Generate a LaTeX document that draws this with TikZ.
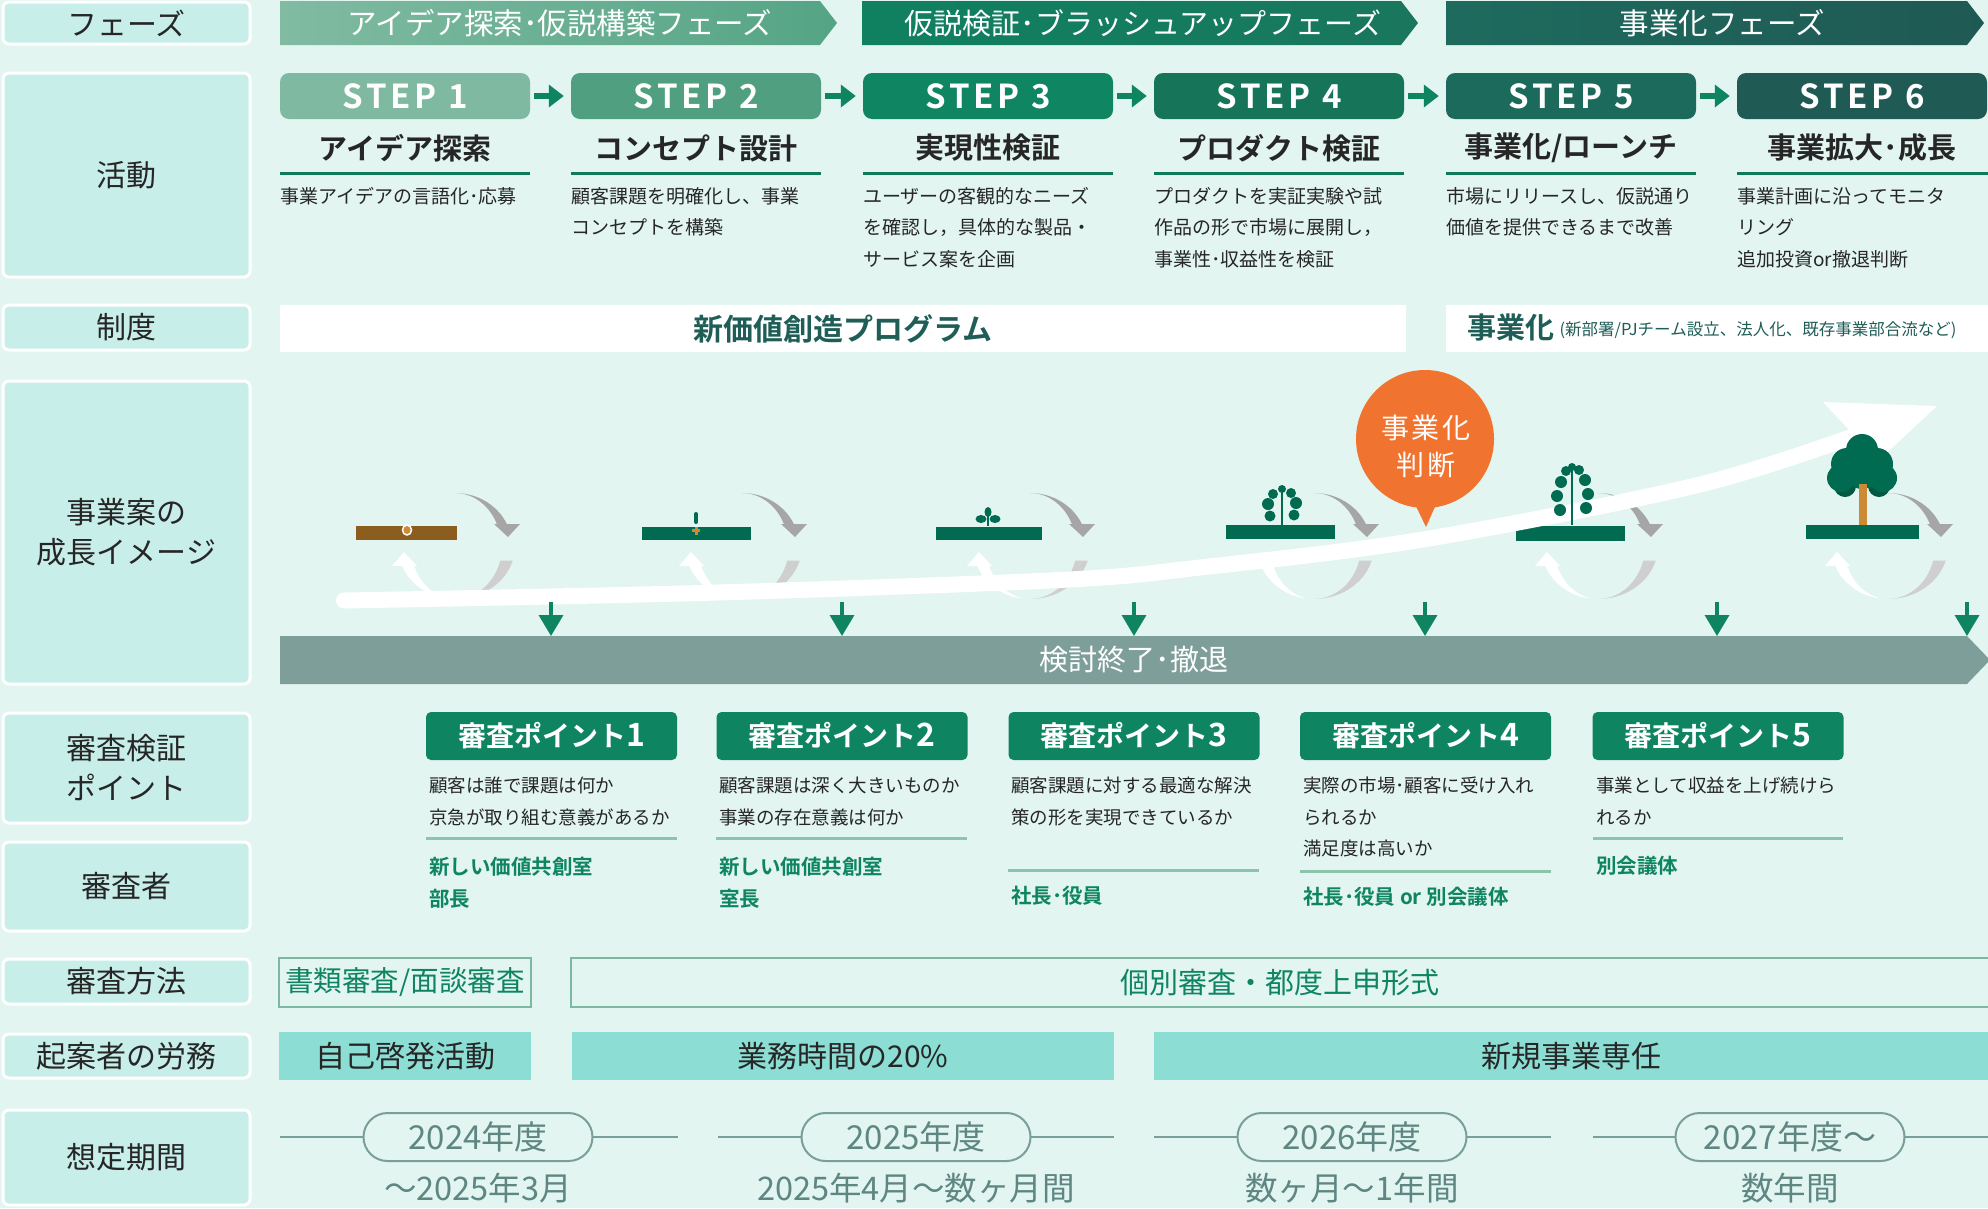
\documentclass[tikz,border=0pt]{standalone}
\usepackage{fontspec}
\setmainfont{Noto Sans CJK JP}
\newfontfamily\jpB{Noto Sans CJK JP Bold}
\newfontfamily\stepfont{Noto Sans CJK JP Bold}[LetterSpace=12]
\usetikzlibrary{arrows.meta}
\newcommand\fs[1]{\fontsize{#1}{#1}\selectfont}
\newcommand\fsl[2]{\fontsize{#1}{#2}\selectfont}
\definecolor{bg}{HTML}{E2F5F1}
\definecolor{lblfill}{HTML}{C8EEEA}
\definecolor{txt}{HTML}{262626}
\definecolor{grn}{HTML}{0E8560}
\definecolor{grnline}{HTML}{0E7A5A}
\definecolor{ph1a}{HTML}{80BBA2}
\definecolor{ph1b}{HTML}{55A486}
\definecolor{ph2a}{HTML}{0F8160}
\definecolor{ph2b}{HTML}{1A765D}
\definecolor{ph3a}{HTML}{1E6B5E}
\definecolor{ph3b}{HTML}{1F5954}
\definecolor{st1}{HTML}{80B9A1}
\definecolor{st2}{HTML}{4F9F80}
\definecolor{st3}{HTML}{0F8562}
\definecolor{st4}{HTML}{167458}
\definecolor{st5}{HTML}{1C6A5C}
\definecolor{st6}{HTML}{1F5B54}
\definecolor{sysc}{HTML}{1F5E57}
\definecolor{sepc}{HTML}{8CC4AE}
\definecolor{bandc}{HTML}{7E9E9A}
\definecolor{labor}{HTML}{8CDDD4}
\definecolor{mboxc}{HTML}{7DB9A0}
\definecolor{pill}{HTML}{7A9E9A}
\definecolor{pilltxt}{HTML}{5E8682}
\definecolor{orng}{HTML}{F07430}
\definecolor{plant}{HTML}{006B50}
\definecolor{plantd}{HTML}{005A43}
\definecolor{brownbar}{HTML}{8B5E20}
\definecolor{trunk}{HTML}{CD8A35}
\definecolor{grayA}{HTML}{A6A6A6}
\definecolor{grayB}{HTML}{CFCFCF}
\newcommand\growcycle[1]{%
  \fill[grayA] plot[domain=-90:-22,samples=24] ({#1+57*cos(\x)},{546+53*sin(\x)})
     -- plot[domain=-22:-90,samples=24] ({#1+46*cos(\x)},{546+53*sin(\x)}) -- cycle;
  \fill[grayA] (#1+39,524) -- (#1+65,524) -- (#1+53,537) -- cycle;
  \fill[grayB] plot[domain=16:90,samples=24] ({#1+60*cos(\x)},{546+53*sin(\x)})
     -- plot[domain=90:16,samples=24] ({#1+47*cos(\x)},{546+53*sin(\x)}) -- cycle;
  \fill[white] plot[domain=100:159,samples=24] ({#1+57*cos(\x)},{546+53*sin(\x)})
     -- plot[domain=159:100,samples=24] ({#1+44*cos(\x)},{546+53*sin(\x)}) -- cycle;
  \fill[white] (#1-63,566) -- (#1-38,566) -- (#1-51,552) -- cycle;
}
\newcommand\leaf[3]{\fill[plant] (#1,#2) circle[radius=#3];}
\begin{document}
\begin{tikzpicture}[x=1pt,y=-1pt,
  lbl/.style={draw=white, line width=3pt, fill=lblfill, rounded corners=6pt, text=txt, font=\fsl{30}{40}, align=center, minimum width=247pt, inner sep=0pt},
  phtext/.style={text=white, font=\fs{29.5}, inner sep=0pt},
  stepbox/.style={rounded corners=9pt, minimum width=250pt, minimum height=46pt, text=white, font=\stepfont\fs{33}, inner sep=0pt},
  steptitle/.style={font=\jpB\fs{29}, text=txt, inner sep=0pt},
  uline/.style={draw=grnline, line width=3pt},
  desc/.style={font=\fsl{19}{31.5}, text=txt, anchor=north west, align=left, inner sep=0pt},
  steparr/.style={draw=grn, line width=6pt, -{Triangle[length=15pt,width=22pt]}},
  sysbox/.style={fill=white, minimum height=47pt, inner sep=0pt},
  downarr/.style={draw=grn, line width=3.5pt, -{Triangle[length=21pt,width=24pt]}},
  rpbox/.style={fill=grn, rounded corners=5pt, minimum width=251pt, minimum height=48pt, text=white, font=\jpB\fs{28}, inner sep=0pt},
  qtext/.style={font=\fsl{18.5}{31.5}, text=txt, anchor=north west, align=left, inner sep=0pt},
  rvtext/.style={font=\jpB\fsl{20.5}{32}, text=grn, anchor=north west, align=left, inner sep=0pt},
  sepline/.style={draw=sepc, line width=3pt},
  mbox/.style={draw=mboxc, line width=2pt, minimum height=49pt, text=grn, font=\fs{28.5}, inner sep=0pt},
  lbox/.style={fill=labor, minimum height=48pt, text=txt, font=\fs{30}, inner sep=0pt},
  pillbox/.style={draw=pill, line width=2pt, fill=bg, rounded corners=24pt, minimum width=229pt, minimum height=48pt, text=pilltxt, font=\fs{33}, inner sep=0pt},
  pline/.style={draw=pill, line width=2.5pt},
  ptext/.style={text=pilltxt, font=\fs{32.5}, inner sep=0pt},
]
\useasboundingbox (0,0) rectangle (1988,1208);
\fill[bg] (0,0) rectangle (1988,1208);

% ---------- left labels ----------
\node[lbl, minimum height=42pt] (Lphase) at (126.5,23) {フェーズ};
\node[lbl, minimum height=204pt] (Lact) at (126.5,175) {活動};
\node[lbl, minimum height=45pt] (Lsys) at (126.5,327.5) {制度};
\node[lbl, minimum height=303pt] (Lgrow) at (126.5,532.5) {事業案の\\成長イメージ};
\node[lbl, minimum height=110pt] (Lrev) at (126.5,768) {審査検証\\ポイント};
\node[lbl, minimum height=89pt] (Lrvr) at (126.5,886.5) {審査者};
\node[lbl, minimum height=45pt] (Lmeth) at (126.5,981.5) {審査方法};
\node[lbl, minimum height=44pt] (Llab) at (126.5,1056) {起案者の労務};
\node[lbl, minimum height=95pt] (Lper) at (126.5,1157.5) {想定期間};

% ---------- phases ----------
\shade[left color=ph1a, right color=ph1b] (280,1) -- (820,1) -- (837,23) -- (820,45) -- (280,45) -- cycle;
\node[phtext] (P1) at (560,23) {アイデア探索･仮説構築フェーズ};
\shade[left color=ph2a, right color=ph2b] (862,1) -- (1401,1) -- (1418,23) -- (1401,45) -- (862,45) -- cycle;
\node[phtext, font=\fs{29}] (P2) at (1143,23) {仮説検証･ブラッシュアップフェーズ};
\shade[left color=ph3a, right color=ph3b] (1446,1) -- (1967,1) -- (1984,23) -- (1967,45) -- (1446,45) -- cycle;
\node[phtext] (P3) at (1722,23) {事業化フェーズ};

% ---------- steps ----------
\node[stepbox, fill=st1] (S1) at (405,96) {STEP 1};
\node[stepbox, fill=st2] (S2) at (696,96) {STEP 2};
\node[stepbox, fill=st3] (S3) at (988,96) {STEP 3};
\node[stepbox, fill=st4] (S4) at (1279,96) {STEP 4};
\node[stepbox, fill=st5] (S5) at (1571,96) {STEP 5};
\node[stepbox, fill=st6] (S6) at (1862,96) {STEP 6};
\draw[steparr] ([xshift=4pt]S1.east) -- ([xshift=-7pt]S2.west);
\draw[steparr] ([xshift=4pt]S2.east) -- ([xshift=-7pt]S3.west);
\draw[steparr] ([xshift=4pt]S3.east) -- ([xshift=-7pt]S4.west);
\draw[steparr] ([xshift=4pt]S4.east) -- ([xshift=-7pt]S5.west);
\draw[steparr] ([xshift=4pt]S5.east) -- ([xshift=-7pt]S6.west);

\node[steptitle] (T1) at (405,148) {アイデア探索};
\node[steptitle] (T2) at (696,148) {コンセプト設計};
\node[steptitle] (T3) at (988,148) {実現性検証};
\node[steptitle] (T4) at (1279,148) {プロダクト検証};
\node[steptitle] (T5) at (1571,148) {事業化/ローンチ};
\node[steptitle] (T6) at (1862,148) {事業拡大･成長};
\draw[uline] (280,173) -- (530,173);
\draw[uline] (571,173) -- (821,173);
\draw[uline] (863,173) -- (1113,173);
\draw[uline] (1154,173) -- (1404,173);
\draw[uline] (1446,173) -- (1696,173);
\draw[uline] (1737,173) -- (1988,173);

\node[desc] (D1) at (280,187) {事業アイデアの言語化･応募};
\node[desc] (D2) at (571,187) {顧客課題を明確化し、事業\\コンセプトを構築};
\node[desc] (D3) at (863,187) {ユーザーの客観的なニーズ\\を確認し，具体的な製品・\\サービス案を企画};
\node[desc] (D4) at (1154,187) {プロダクトを実証実験や試\\作品の形で市場に展開し，\\事業性･収益性を検証};
\node[desc] (D5) at (1446,187) {市場にリリースし、仮説通り\\価値を提供できるまで改善};
\node[desc] (D6) at (1737,187) {事業計画に沿ってモニタ\\リング\\追加投資or撤退判断};

% ---------- system row ----------
\node[sysbox, minimum width=1126pt, text=sysc, font=\jpB\fs{30}] (Sys1) at (843,328.5) {新価値創造プログラム};
\node[sysbox, minimum width=544pt] (Sys2) at (1718,328.5) {};
\node[anchor=west, inner sep=0pt, text=sysc, font=\jpB\fs{29}] (Sys2a) at (1467,328) {事業化};
\node[anchor=west, inner sep=0pt, text=sysc, font=\fs{16.5}] (Sys2b) at ([xshift=5pt,yshift=-2pt]Sys2a.east) {(新部署/PJチーム設立、法人化、既存事業部合流など)};

% ---------- growth image ----------
\fill[brownbar] (356,526) rectangle (457,540);
\fill[plant] (642,527) rectangle (751,540);
\fill[plant] (936,527) rectangle (1042,540);
\fill[plant] (1226,525) rectangle (1335,539);
\fill[plant] (1516,526) rectangle (1625,541);
\fill[plant] (1806,525) rectangle (1919,539);

\growcycle{455}
\growcycle{742}
\growcycle{1030}
\growcycle{1314}
\growcycle{1598}
\growcycle{1888}

% big growth arrow
\draw[white, line width=16pt, line cap=round] plot[smooth, tension=0.55] coordinates {(344,600.5) (700,593) (1060,580) (1200,567.5) (1426,539) (1700,484.5) (1868,431)};
\fill[white] (1823,402) -- (1937,406) -- (1878,461) -- cycle;

% seed 1
\draw[white, line width=1.5pt, fill=trunk] (407,530) ellipse [x radius=4.5, y radius=5];
% sprout 2
\draw[plant, line width=4pt, line cap=round] (696,514) -- (696,522);
\fill[trunk] (692,529) rectangle (700,532);
\fill[trunk] (694.5,526.5) rectangle (697.5,534.5);
% sprout 3
\draw[plant, line width=2pt] (988,526) -- (988,512);
\fill[plant] (981,519) ellipse [x radius=5.5, y radius=4];
\fill[plant] (995,519) ellipse [x radius=5.5, y radius=4];
\fill[plant] (988,512) ellipse [x radius=3.5, y radius=5];
% plant 4
\draw[plant, line width=2.5pt] (1282,525) -- (1282,487);
\leaf{1270}{516}{5.5}\leaf{1294}{515}{5.5}
\leaf{1268}{504}{6}\leaf{1296}{503}{6}
\leaf{1273}{494}{5}\leaf{1291}{493}{5}
\leaf{1282}{489}{4}
% plant 5
\draw[plant, line width=2.5pt] (1572,525) -- (1572,466);
\leaf{1560}{510}{6}\leaf{1586}{508}{6}
\leaf{1557}{496}{6}\leaf{1588}{494}{6}
\leaf{1561}{482}{6}\leaf{1585}{480}{6}
\leaf{1566}{471}{5}\leaf{1579}{470}{5}
\leaf{1572}{467}{4}
% tree
\fill[plantd] (1845,486) circle[radius=11];
\fill[plantd] (1879,486) circle[radius=11];
\fill[plant] (1862,450) circle[radius=16];
\fill[plant] (1847,464) circle[radius=16];
\fill[plant] (1877,464) circle[radius=16];
\fill[plant] (1841,478) circle[radius=14];
\fill[plant] (1883,478) circle[radius=14];
\fill[plant] (1862,472) circle[radius=17];
\draw[trunk, line width=8pt] (1863,525) -- (1863,484);

% callout
\fill[orng] (1413,500) -- (1438,500) -- (1426,527) -- cycle;
\node[circle, fill=orng, minimum size=138pt, inner sep=0pt] (Call) at (1425,439) {};
\node[text=white, font=\fsl{28}{37}\addfontfeature{LetterSpace=8}, align=center, inner sep=0pt] (CallT) at (1426,446.5) {事業化\\判断};

% band
\fill[bandc] (280,636) -- (1967,636) -- (1990,660) -- (1967,684) -- (280,684) -- cycle;
\node[text=white, font=\fs{29}, inner sep=0pt] (Band) at (1134,660) {検討終了･撤退};
\foreach \k/\xx in {1/551,2/842,3/1134,4/1425,5/1717,6/1967}{
  \coordinate (da\k) at (\xx,602);
  \coordinate (db\k) at (\xx,636);
  \draw[downarr] (da\k) -- (db\k);
}

% ---------- review points ----------
\node[rpbox] (R1) at (551.5,736) {審査ポイント{\fs{32}1}};
\node[rpbox] (R2) at (842,736) {審査ポイント{\fs{32}2}};
\node[rpbox] (R3) at (1134,736) {審査ポイント{\fs{32}3}};
\node[rpbox] (R4) at (1425.5,736) {審査ポイント{\fs{32}4}};
\node[rpbox] (R5) at (1718,736) {審査ポイント{\fs{32}5}};

\node[qtext] (Q1) at (429,777) {顧客は誰で課題は何か\\京急が取り組む意義があるか};
\node[qtext] (Q2) at (719,777) {顧客課題は深く大きいものか\\事業の存在意義は何か};
\node[qtext] (Q3) at (1011,777) {顧客課題に対する最適な解決\\策の形を実現できているか};
\node[qtext] (Q4) at (1303,777) {実際の市場･顧客に受け入れ\\られるか\\満足度は高いか};
\node[qtext] (Q5) at (1596,777) {事業として収益を上げ続けら\\れるか};

\draw[sepline] (426,838) -- (677,838);
\draw[sepline] (716,838) -- (967,838);
\draw[sepline] (1008,870) -- (1259,870);
\draw[sepline] (1300,871) -- (1551,871);
\draw[sepline] (1593,838) -- (1843,838);

\node[rvtext] (V1) at (429,857) {新しい価値共創室\\部長};
\node[rvtext] (V2) at (719,857) {新しい価値共創室\\室長};
\node[rvtext] (V3) at (1011,886) {社長･役員};
\node[rvtext] (V4) at (1303,887) {社長･役員 or 別会議体};
\node[rvtext] (V5) at (1596,856) {別会議体};

% ---------- method ----------
\node[mbox, minimum width=252pt] (M1) at (405,982.5) {書類審査/面談審査};
\node[mbox, minimum width=1423pt] (M2) at (1282.5,982.5) {};
\node[text=grn, font=\fs{29}, inner sep=0pt] (M2t) at (1280,982.5) {個別審査・都度上申形式};

% ---------- labor ----------
\node[lbox, minimum width=252pt] (W1) at (405,1056) {自己啓発活動};
\node[lbox, minimum width=542pt] (W2) at (843,1056) {業務時間の20\%};
\node[lbox, minimum width=836pt] (W3) at (1572,1056) {};
\node[text=txt, font=\fs{30}, inner sep=0pt] (W3t) at (1571,1056) {新規事業専任};

% ---------- period ----------
\coordinate (a1) at (280,1137);  \coordinate (b1) at (678,1137);
\coordinate (a2) at (718,1137);  \coordinate (b2) at (1114,1137);
\coordinate (a3) at (1154,1137); \coordinate (b3) at (1551,1137);
\coordinate (a4) at (1593,1137); \coordinate (b4) at (1988,1137);
\draw[pline] (a1) -- (b1);
\draw[pline] (a2) -- (b2);
\draw[pline] (a3) -- (b3);
\draw[pline] (a4) -- (b4);
\node[pillbox] (Y1) at (478,1137) {2024年度};
\node[pillbox] (Y2) at (916,1137) {2025年度};
\node[pillbox] (Y3) at (1352,1137) {2026年度};
\node[pillbox] (Y4) at (1790,1137) {2027年度～};
\node[ptext] (Z1) at (478,1188) {～2025年3月};
\node[ptext] (Z2) at (916,1188) {2025年4月～数ヶ月間};
\node[ptext] (Z3) at (1352,1188) {数ヶ月～1年間};
\node[ptext] (Z4) at (1790,1188) {数年間};
\end{tikzpicture}
\end{document}
